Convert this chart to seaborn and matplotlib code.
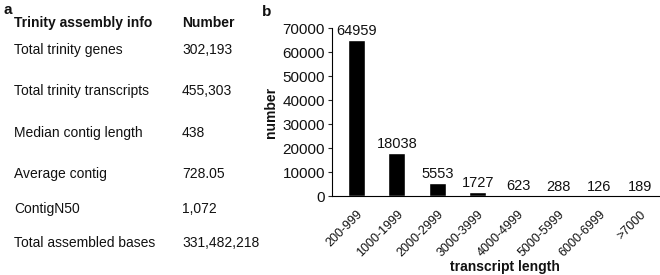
import matplotlib
matplotlib.use("Agg")
import matplotlib.pyplot as plt
import seaborn as sns
import pandas as pd

sns.set_theme(style="white")
plt.rcParams['font.family'] = ['Liberation Sans', 'DejaVu Sans']

# Panel a table
info_labels = ["Total trinity genes", "Total trinity transcripts", "Median contig length",
               "Average contig", "ContigN50", "Total assembled bases"]
info_values = ["302,193", "455,303", "438", "728.05", "1,072", "331,482,218"]

# Panel b data
categories = ["200-999", "1000-1999", "2000-2999", "3000-3999", "4000-4999",
              "5000-5999", "6000-6999", ">7000"]
counts = [64959, 18038, 5553, 1727, 623, 288, 126, 189]

fig = plt.figure(figsize=(6.6, 2.75), dpi=100)
TXT = "#111111"

# Panel a
fig.text(3/660, 1-10/275, "a", fontsize=11, fontweight="bold", va="center", ha="left", color=TXT)
fig.text(14/660, 1-23/275, "Trinity assembly info", fontsize=10, fontweight="bold", va="center", color=TXT)
fig.text(182/660, 1-23/275, "Number", fontsize=10, fontweight="bold", va="center", color=TXT)
row_y = [50, 91, 133, 174, 209, 243]
for lab, val, y in zip(info_labels, info_values, row_y):
    fig.text(14/660, 1-y/275, lab, fontsize=10, va="center", color=TXT)
    fig.text(182/660, 1-y/275, val, fontsize=10, va="center", color=TXT)

# Panel b
fig.text(262/660, 1-12/275, "b", fontsize=11, fontweight="bold", va="center", ha="left", color=TXT)
ax = fig.add_axes([332/660, 1-196/275, (659-332)/660, (196-28)/275])
df = pd.DataFrame({"length": categories, "number": counts})
sns.barplot(data=df, x="length", y="number", color="black", width=0.42,
            saturation=1, ax=ax)
for i, v in enumerate(counts):
    ax.text(i, v + 700, str(v), ha="center", va="bottom", fontsize=10.5, color=TXT)
ax.set_ylim(0, 70000)
ax.set_xlim(-0.6, 7.48)
ax.set_yticks(range(0, 70001, 10000))
ax.tick_params(axis="y", labelsize=11, left=True, length=3, width=0.8, pad=2, labelcolor=TXT)
ax.tick_params(axis="x", labelsize=9, bottom=False, pad=3, labelcolor=TXT)
plt.setp(ax.get_xticklabels(), rotation=45, ha="right", rotation_mode="anchor")
ax.set_xlabel("")
fig.text(505/660, 1-267/275, "transcript length", fontsize=10, fontweight="bold",
         ha="center", va="center", color=TXT)
ax.set_ylabel("number", fontsize=10, fontweight="bold", labelpad=3, color=TXT)
for s in ["top", "right"]:
    ax.spines[s].set_visible(False)
for s in ["left", "bottom"]:
    ax.spines[s].set_color("black")
    ax.spines[s].set_linewidth(0.8)

fig.savefig("out.png", dpi=100)
